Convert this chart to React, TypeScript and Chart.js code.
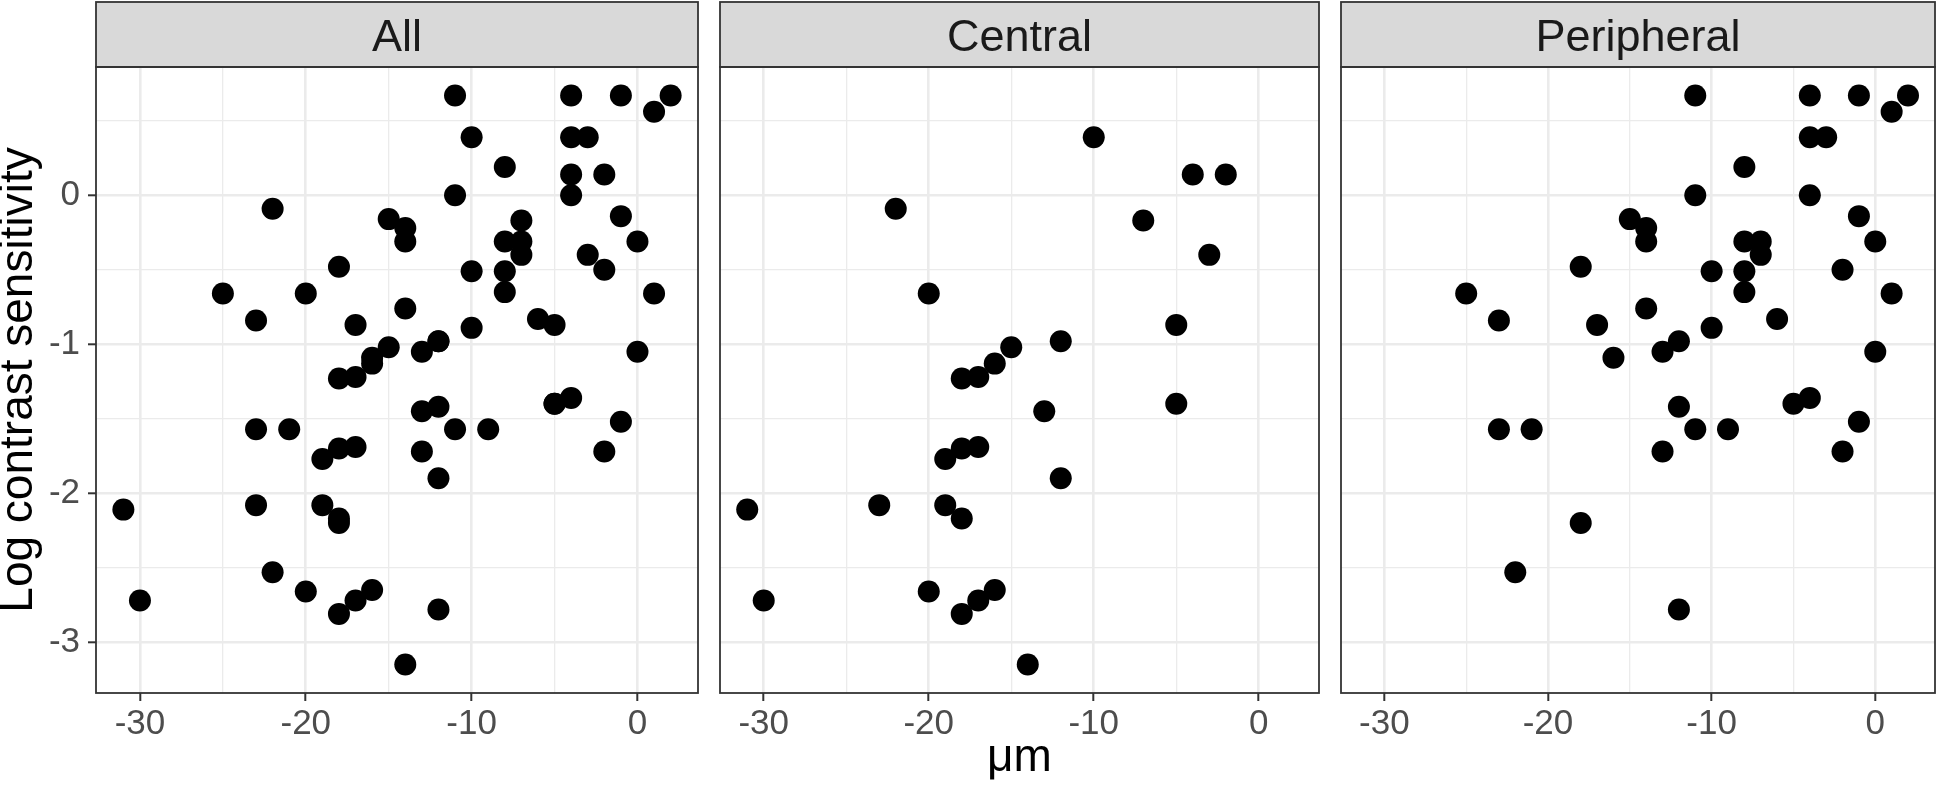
import React, { useEffect, useRef } from 'react';
import { Chart, registerables } from 'chart.js';
Chart.register(...registerables);

// ---- data (µm, log contrast sensitivity) ----
const centralX = [-10, -4, -2, -22, -7, -3, -20, -5, -12, -15, -16, -17, -18, -5, -13, -17, -18, -19, -12, -31, -23, -19, -18, -20, -16, -17, -30, -18, -14];
const centralY = [0.39, 0.14, 0.14, -0.09, -0.17, -0.40, -0.66, -0.87, -0.98, -1.02, -1.13, -1.22, -1.23, -1.40, -1.45, -1.69, -1.70, -1.77, -1.90, -2.11, -2.08, -2.08, -2.17, -2.66, -2.65, -2.72, -2.72, -2.81, -3.15];

const peripheralX = [-11, -4, -1, 2, 1, -4, -3, -8, -11, -4, -1, -15, -14, -14, -8, -7, -7, 0, -18, -10, -8, -2, -25, -8, 1, -14, -23, -17, -6, -10, -12, -13, -16, 0, -12, -5, -4, -23, -21, -11, -9, -1, -13, -2, -18, -22, -12];
const peripheralY = [0.67, 0.67, 0.67, 0.67, 0.56, 0.39, 0.39, 0.19, 0.00, 0.00, -0.14, -0.16, -0.22, -0.31, -0.31, -0.31, -0.40, -0.31, -0.48, -0.51, -0.51, -0.50, -0.66, -0.65, -0.66, -0.76, -0.84, -0.87, -0.83, -0.89, -0.98, -1.05, -1.09, -1.05, -1.42, -1.40, -1.36, -1.57, -1.57, -1.57, -1.57, -1.52, -1.72, -1.72, -2.20, -2.53, -2.78];

const panelNames = ['All', 'Central', 'Peripheral'];
const xTickValues = [-30, -25, -20, -15, -10, -5, 0];
const yTickValues = [-3, -2.5, -2, -1.5, -1, -0.5, 0, 0.5];
const xMajorTicks = [-30, -20, -10, 0];
const yMajorTicks = [-3, -2, -1, 0];
const xTitle = 'μm';
const yTitle = 'Log contrast sensitivity';

const toPoints = (xs: number[], ys: number[]) => xs.map((x, i) => ({ x, y: ys[i] }));
const panelData = [
  [...toPoints(centralX, centralY), ...toPoints(peripheralX, peripheralY)],
  toPoints(centralX, centralY),
  toPoints(peripheralX, peripheralY),
];

const allX = [...centralX, ...peripheralX];
const allY = [...centralY, ...peripheralY];
const expand = (arr: number[]) => {
  const lo = Math.min(...arr), hi = Math.max(...arr);
  const pad = (hi - lo) * 0.05;
  return [lo - pad, hi + pad];
};
const [xMin, xMax] = expand(allX);
const [yMin, yMax] = expand(allY);

// ---- layout ----
const W = 1946, H = 786;
const STRIP_TOP = 2, PLOT_TOP = 67, PLOT_BOTTOM = 693;
const panels = [
  { canvasLeft: 0, canvasWidth: 709, left: 96, right: 700 },
  { canvasLeft: 709, canvasWidth: 621, left: 718, right: 1322 },
  { canvasLeft: 1330, canvasWidth: 616, left: 1339, right: 1943 },
];
const FONT = "'Liberation Sans', Arial, Helvetica, sans-serif";
const GRID = '#EBEBEB';
const DARK = '#333333';

function Panel({ idx }: { idx: number }) {
  const ref = useRef<HTMLCanvasElement | null>(null);
  useEffect(() => {
    const p = panels[idx];
    const canvas = ref.current!;
    const stripPlugin = {
      id: 'strip',
      afterDraw(chart: any) {
        const { ctx, chartArea } = chart;
        ctx.save();
        ctx.fillStyle = '#D9D9D9';
        ctx.fillRect(chartArea.left, STRIP_TOP, chartArea.right - chartArea.left, PLOT_TOP - STRIP_TOP);
        ctx.strokeStyle = DARK;
        ctx.lineWidth = 1.8;
        ctx.strokeRect(chartArea.left, STRIP_TOP, chartArea.right - chartArea.left, PLOT_TOP - STRIP_TOP);
        ctx.strokeRect(chartArea.left, chartArea.top, chartArea.right - chartArea.left, chartArea.bottom - chartArea.top);
        ctx.fillStyle = '#1A1A1A';
        ctx.font = `45px ${FONT}`;
        ctx.textAlign = 'center';
        ctx.textBaseline = 'alphabetic';
        ctx.fillText(panelNames[idx], (chartArea.left + chartArea.right) / 2, 51);
        ctx.restore();
      },
    };
    const chart = new Chart(canvas, {
      type: 'scatter',
      data: {
        datasets: [{
          data: panelData[idx],
          backgroundColor: '#000000',
          borderWidth: 0,
          pointRadius: 11,
          pointHoverRadius: 11,
        }],
      },
      options: {
        animation: false,
        responsive: false,
        devicePixelRatio: 1,
        events: [],
        layout: { padding: { top: PLOT_TOP, bottom: 0, left: 0, right: p.canvasWidth - (p.right - p.canvasLeft) } },
        plugins: { legend: { display: false }, tooltip: { enabled: false } },
        scales: {
          x: {
            type: 'linear',
            min: xMin,
            max: xMax,
            afterBuildTicks: (s: any) => { s.ticks = xTickValues.map((v) => ({ value: v })); },
            afterFit: (s: any) => { s.height = H - PLOT_BOTTOM; },
            border: { display: false },
            grid: {
              color: GRID,
              lineWidth: (c: any) => (xMajorTicks.includes(c.tick?.value) ? 2.6 : 1.3),
              drawTicks: true,
              tickLength: 8,
              tickWidth: 2,
              tickColor: (c: any) => (xMajorTicks.includes(c.tick?.value) ? DARK : 'rgba(0,0,0,0)'),
            },
            ticks: {
              autoSkip: false,
              maxRotation: 0,
              padding: 2,
              color: '#4D4D4D',
              font: { family: FONT, size: 35 },
              callback: (v: any) => (xMajorTicks.includes(Number(v)) ? String(v) : ''),
            },
            title: {
              display: idx === 1,
              text: xTitle,
              color: '#000000',
              padding: 0,
              font: { family: FONT, size: 46, lineHeight: 1.2 },
            },
          },
          y: {
            type: 'linear',
            min: yMin,
            max: yMax,
            afterBuildTicks: (s: any) => { s.ticks = yTickValues.map((v) => ({ value: v })); },
            afterFit: (s: any) => { s.width = p.left - p.canvasLeft; },
            border: { display: false },
            grid: {
              color: GRID,
              lineWidth: (c: any) => (yMajorTicks.includes(c.tick?.value) ? 2.6 : 1.3),
              drawTicks: idx === 0,
              tickLength: 8,
              tickWidth: 2,
              tickColor: (c: any) => (yMajorTicks.includes(c.tick?.value) ? DARK : 'rgba(0,0,0,0)'),
            },
            ticks: {
              display: idx === 0,
              autoSkip: false,
              padding: 8,
              color: '#4D4D4D',
              font: { family: FONT, size: 35 },
              callback: (v: any) => (yMajorTicks.includes(Number(v)) ? String(v) : ''),
            },
            title: {
              display: idx === 0,
              text: yTitle,
              color: '#000000',
              padding: 0,
              font: { family: FONT, size: 46, lineHeight: 0.82 },
            },
          },
        },
      },
      plugins: [stripPlugin],
    } as any);
    return () => chart.destroy();
  }, [idx]);
  const p = panels[idx];
  return (
    <canvas
      ref={ref}
      width={p.canvasWidth}
      height={H}
      style={{ position: 'absolute', left: p.canvasLeft, top: 0, width: p.canvasWidth, height: H }}
    />
  );
}

export default function App() {
  return (
    <div style={{ position: 'fixed', left: 0, top: 0, width: W, height: H, background: '#ffffff' }}>
      {panels.map((_, i) => (
        <Panel key={i} idx={i} />
      ))}
    </div>
  );
}
